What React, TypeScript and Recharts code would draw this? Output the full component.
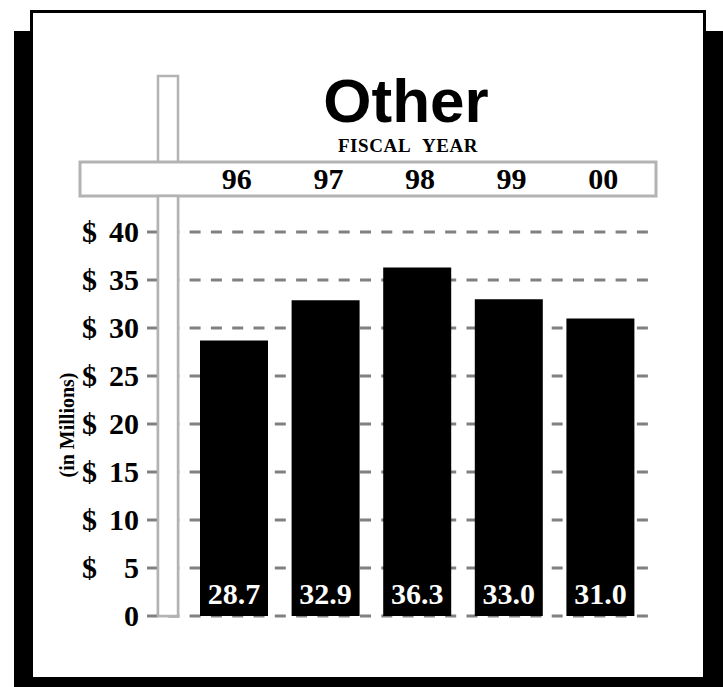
import { BarChart, Bar, XAxis, YAxis, CartesianGrid, LabelList } from "recharts";

// fiscal years and amounts (in $ millions)
const years = ["96", "97", "98", "99", "00"];
const amounts = [28.7, 32.9, 36.3, 33.0, 31.0];
const yTicks = [0, 5, 10, 15, 20, 25, 30, 35, 40];

const data = years.map((year, i) => ({ year, amount: amounts[i] }));

const SERIF = "'Liberation Serif', 'Times New Roman', serif";
const SANS = "'Liberation Sans', Arial, sans-serif";
const FRAME = "#b3b3b3";

const YearTick = ({ x, y, payload }: any) => (
  <text x={x + 3} y={y} textAnchor="middle" fontFamily={SERIF} fontWeight="bold" fontSize={30} fill="#000">
    {payload.value}
  </text>
);

const DollarTick = ({ x, y, payload }: any) => {
  const v = payload.value as number;
  return (
    <g fontFamily={SERIF} fontWeight="bold" fontSize={30} fill="#000">
      {v !== 0 && (
        <text x={x - 57} y={y} dy={10} textAnchor="start">$</text>
      )}
      <text x={x} y={y} dy={10} textAnchor="end">{v}</text>
    </g>
  );
};

const ValueLabel = ({ x, y, width, height, value }: any) => (
  <text
    x={x + width / 2}
    y={y + height - 12}
    textAnchor="middle"
    fontFamily={SERIF}
    fontWeight="bold"
    fontSize={30}
    fill="#fff"
  >
    {Number(value).toFixed(1)}
  </text>
);

export default function App() {
  const layer = { position: "absolute" as const, left: 0, top: 0 };
  return (
    <div style={{ position: "absolute", left: 0, top: 0, width: 723, height: 687, background: "#fff" }}>
      {/* panel with drop shadow, post and year band */}
      <svg width={723} height={687} style={layer}>
        <rect x={14} y={31} width={709} height={656} fill="#000" />
        <rect x={31.5} y={11.5} width={673} height={667} fill="#fff" stroke="#000" strokeWidth={3} />
        <rect x={158} y={76} width={20} height={540} fill="#fff" stroke={FRAME} strokeWidth={2.5} />
        <rect x={80} y={162} width={576} height={34} fill="#fff" stroke={FRAME} strokeWidth={3} />
        <text x={406} y={122} textAnchor="middle" fontFamily={SANS} fontWeight="bold" fontSize={62}>
          Other
        </text>
        <text x={408} y={152} textAnchor="middle" fontFamily={SERIF} fontWeight="bold" fontSize={19} letterSpacing={0.6}>
          FISCAL{"\u00a0\u00a0"}YEAR
        </text>
      </svg>

      <div style={layer}>
        <BarChart width={723} height={687} data={data} margin={{ top: 196, right: 73, left: 77, bottom: 71 }}>
          <CartesianGrid vertical={false} stroke="#808080" strokeWidth={3} strokeDasharray="11 10.3" />
          <XAxis
            dataKey="year"
            orientation="top"
            height={36}
            padding={{ left: 41, right: 4 }}
            axisLine={false}
            tickLine={false}
            tickSize={0}
            tickMargin={43}
            tick={<YearTick />}
            interval={0}
          />
          <YAxis
            domain={[0, 40]}
            ticks={yTicks}
            width={70}
            axisLine={false}
            tickLine={false}
            tickSize={0}
            tickMargin={8}
            tick={<DollarTick />}
            interval={0}
          />
          <Bar dataKey="amount" fill="#000" barSize={68} isAnimationActive={false}>
            <LabelList dataKey="amount" content={<ValueLabel />} />
          </Bar>
        </BarChart>
      </div>

      {/* lower part of the post sits over the grid lines */}
      <svg width={723} height={687} style={{ ...layer, pointerEvents: "none" }}>
        <rect x={158} y={196} width={20} height={420} fill="#fff" stroke={FRAME} strokeWidth={2.5} />
        <text
          transform="translate(74 425) rotate(-90)"
          textAnchor="middle"
          fontFamily={SERIF}
          fontWeight="bold"
          fontSize={20}
        >
          (in Millions)
        </text>
      </svg>
    </div>
  );
}
